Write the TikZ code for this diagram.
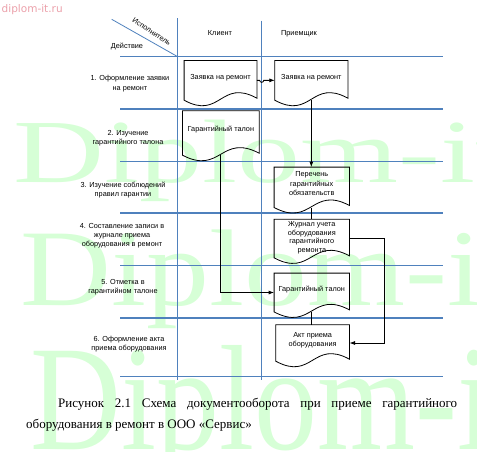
\documentclass[tikz,border=0pt]{standalone}
\usepackage{fontspec}
\setmainfont{Liberation Serif}
\setsansfont{Liberation Sans}
\newfontfamily\wmfont{DejaVu Sans}
\usetikzlibrary{calc,arrows.meta}

\definecolor{gridblue}{RGB}{79,129,189}
\definecolor{wmgreen}{RGB}{214,255,214}
\definecolor{wmpink}{RGB}{235,160,170}

\tikzset{
	lbl/.style={font=\sffamily\fontsize{7.3}{9.2}\selectfont, align=center, inner sep=0pt},
	doc/.style 2 args={lbl, minimum width=#1, minimum height=#2, text depth=7.5pt},
	docline/.style={draw=black, line width=0.8pt},
	grid/.style={draw=gridblue, line width=1.1pt},
	lane/.style={draw=gridblue, line width=0.8pt},
	conn/.style={draw=black, line width=0.8pt},
	arr/.style={conn, -{Latex[length=5.5pt,width=4pt]}},
	wmark/.style={font=\fontsize{100}{100}\selectfont, text=wmgreen, inner sep=0pt, anchor=base west, transform shape}
}
\def\docframe#1{\draw[docline] (#1.south west) -- (#1.north west) -- (#1.north east) -- ($(#1.south east)+(0,-2)$) .. controls ($(#1.south)+(0,-22)$) and ($(#1.south)+(0,20)$) .. (#1.south west) -- cycle;}

\begin{document}
\begin{tikzpicture}[x=1pt, y=-1pt]
	%%%%% START %%%%%
	\useasboundingbox (0,0) rectangle (477,451);
	
	% watermark
	\node[font=\wmfont\fontsize{10.5}{12}\selectfont, text=wmpink, inner sep=0pt, anchor=base west] (wmurl) at (1.5,12.5) {diplom-it.ru};
	\begin{scope}[shift={(13,182)}, xscale=1.26, yscale=0.9]
		\node[wmark] (wm1) at (0,0) {Diplom-it};
	\end{scope}
	\begin{scope}[shift={(20,305)}, xscale=1.26, yscale=1.09]
		\node[wmark] (wm2) at (0,0) {Diplom-it};
	\end{scope}
	\begin{scope}[shift={(30,449)}, xscale=1.26, yscale=1.5]
		\node[wmark] (wm3) at (0,0) {Diplom-it};
	\end{scope}
	
	% table
	\foreach \y in {56.7,109,161.7,213,265.7,318,376.7}
		\draw[grid] (120,\y) -- (443.3,\y);
	\draw[lane] (177.7,18.3) -- (177.7,380);
	\draw[lane] (261.7,20.7) -- (261.7,380);
	\draw[lane] (111.7,19.3) -- (177.7,56.7);
	
	\node[lbl, rotate=-33] (hexec) at (151.7,31.7) {Исполнитель};
	\node[lbl] (hact) at (127,46.3) {Действие};
	\node[lbl] (hclient) at (220,32.7) {Клиент};
	\node[lbl] (hrecv) at (299,34) {Приемщик};
	
	\node[lbl] (r1) at (130,83.6) {1. Оформление заявки\\на ремонт};
	\node[lbl] (r2) at (128,138.3) {2. Изучение\\гарантийного талона};
	\node[lbl] (r3) at (123,189.7) {3. Изучение соблюдений\\правил гарантии};
	\node[lbl] (r4) at (122,236) {4. Составление записи в\\журнале приема\\оборудования в ремонт};
	\node[lbl] (r5) at (123,287.5) {5. Отметка в\\гарантийном талоне};
	\node[lbl] (r6) at (129,343.8) {6. Оформление акта\\приема оборудования};
	
	% documents
	\node[doc={72.4pt}{39.3pt}] (d1) at (220.5,80.35) {Заявка на ремонт};
	\node[doc={72.7pt}{39.3pt}] (d2) at (311.35,80.35) {Заявка на ремонт};
	\node[doc={76.3pt}{44pt}] (d3) at (220.85,133) {Гарантийный талон};
	\node[doc={75pt}{40pt}] (d4) at (311.8,187.3) {Перечень\\гарантийных\\обязательств};
	\node[doc={75pt}{38.3pt}, font=\sffamily\fontsize{7.3}{8.7}\selectfont, text depth=3pt] (d5) at (311.8,238.5) {Журнал учета\\оборудования\\гарантийного\\ремонта};
	\node[doc={75pt}{38.4pt}] (d6) at (311.8,292.5) {Гарантийный талон};
	\node[doc={73.3pt}{36pt}] (d7) at (312.65,343) {Акт приема\\оборудования};
	\foreach \d in {d1,d2,d3,d4,d5,d6,d7}
		{\docframe{\d}}
	
	% flows
	\draw[arr] (d1.east) -- ($(d1.east)+(2.8,0)$) arc[start angle=180, end angle=0, radius=2] -- (d2.west);
	\draw[arr] (d2.south) -- (d2.south |- d4.north);
	\draw[conn] (d4.south) -- (d4.south |- d5.north);
	\draw[arr] (d5.east) -- ++(35,0) |- (d7.east);
	\draw[arr] (d3.south) |- (d6.west);
	\draw[conn] (d6.south) -- (d6.south |- d7.north);
	
	% caption
	\node[font=\fontsize{13}{21}\selectfont, text width=431pt, align=justify, inner sep=0pt, anchor=base west] (cap) at (26,407)
		{\hspace*{32pt}Рисунок 2.1 Схема документооборота при приеме гарантийного\linebreak оборудования в ремонт в ООО «Сервис»};
	%%%%% END %%%%%
\end{tikzpicture}
\end{document}
